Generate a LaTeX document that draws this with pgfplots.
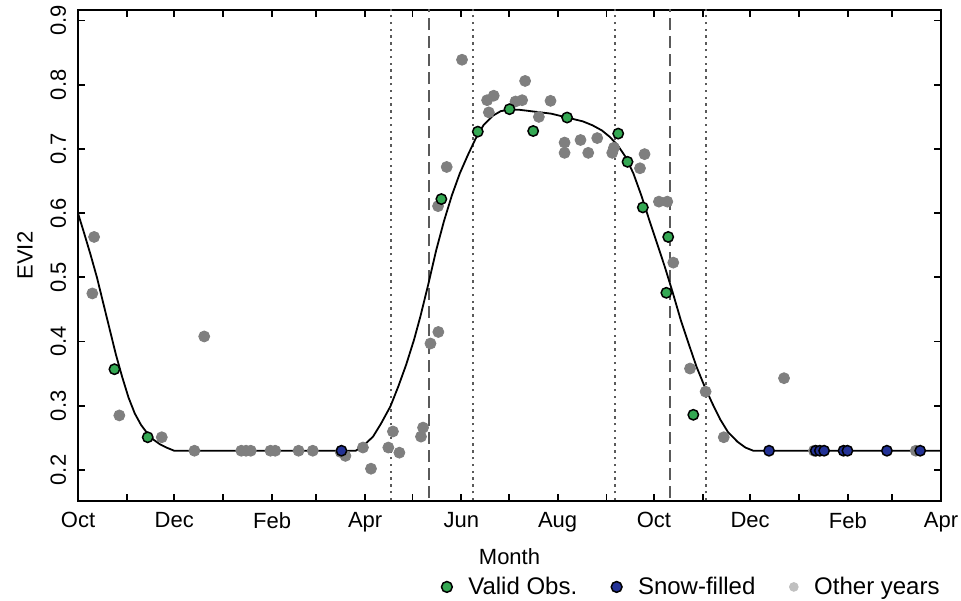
\documentclass[border=0pt]{standalone}
\usepackage{fontspec}
\setmainfont{Liberation Sans}
\usepackage{pgfplots}
\pgfplotsset{compat=1.18}
\definecolor{obsgreen}{RGB}{52,168,83}
\definecolor{snowblue}{RGB}{35,50,150}
\definecolor{ptgray}{RGB}{127,127,127}
\definecolor{leggray}{RGB}{192,192,192}
\definecolor{vgray}{RGB}{90,90,90}
\begin{document}
\begin{tikzpicture}
\useasboundingbox (-39pt,-49.5pt) rectangle (441.5pt,250.5pt);
\begin{axis}[
  scale only axis, width=431.5pt, height=245.5pt,
  xmin=0, xmax=547, ymin=0.1517, ymax=0.9165,
  axis line style={line width=0.9pt},
  tick style={line width=0.9pt, black},
  tick align=inside, major tick length=3.5pt,
  xtick={0,31,61,92,123,151,182,212,243,273,304,335,365,396,426,457,488,516,547},
  xticklabels={Oct,,Dec,,Feb,,Apr,,Jun,,Aug,,Oct,,Dec,,Feb,,Apr},
  ytick={0.2,0.3,0.4,0.5,0.6,0.7,0.8,0.9},
  yticklabels={0.2,0.3,0.4,0.5,0.6,0.7,0.8,0.9},
  ticklabel style={font=\fontsize{11}{13}\selectfont},
  xticklabel style={anchor=north, inner sep=0pt},
  xticklabel shift=5.5pt,
  yticklabel style={rotate=90, anchor=south, inner sep=0pt},
  yticklabel shift=5.7pt,
  xlabel={Month}, ylabel={EVI2},
  label style={font=\fontsize{11}{13}\selectfont},
  xlabel style={at={(axis description cs:0.5,-0.0957)}, anchor=north, inner sep=0pt},
  ylabel style={at={(axis description cs:-0.0521,0.5)}, anchor=south, inner sep=0pt},
  legend columns=3,
  legend style={draw=none, fill=none, at={(axis description cs:1,-0.175)}, anchor=east, xshift=1.5pt,
    font=\fontsize{12}{14}\selectfont, inner xsep=0pt,
    /tikz/every odd column/.append style={column sep=6pt},
    /tikz/every even column/.append style={column sep=15pt}},
]
\addlegendimage{only marks, mark=*, mark size=2.7pt, mark options={fill=obsgreen, draw=black, line width=0.75pt}}
\addlegendentry{Valid Obs.}
\addlegendimage{only marks, mark=*, mark size=2.7pt, mark options={fill=snowblue, draw=black, line width=0.75pt}}
\addlegendentry{Snow-filled}
\addlegendimage{only marks, mark=*, mark size=2.2pt, color=leggray, mark options={fill=leggray, draw=none}}
\addlegendentry{Other years}

% other years
\addplot[only marks, mark=*, mark size=2.75pt, color=ptgray, mark options={fill=ptgray, draw=none}, forget plot] coordinates {
(10.2,0.563) (9.1,0.475) (26.2,0.285) (53.1,0.251) (73.8,0.230) (80.0,0.408)
(103.5,0.230) (106.5,0.230) (109.5,0.230) (122.0,0.230) (125.0,0.230) (139.8,0.230) (148.8,0.230)
(166.5,0.228) (169.5,0.222) (180.6,0.235) (185.7,0.202) (196.7,0.235) (199.6,0.260) (203.7,0.227)
(217.4,0.252) (218.7,0.266) (223.4,0.397) (228.4,0.415) (228.2,0.611) (233.7,0.672) (243.4,0.839)
(259.3,0.776) (263.5,0.783) (260.4,0.757) (277.3,0.774) (281.5,0.776) (283.4,0.806) (292.1,0.750)
(299.5,0.775) (308.4,0.710) (308.4,0.694) (318.5,0.714) (323.4,0.694) (329.1,0.717) (338.6,0.694)
(339.7,0.702) (356.2,0.670) (359.1,0.692) (368.2,0.618) (373.5,0.618) (377.3,0.523) (387.9,0.358)
(397.8,0.322) (409.3,0.251) (447.5,0.343) (466.5,0.230) (531.0,0.230) (549.0,0.203)
};
% valid obs
\addplot[only marks, mark=*, mark size=2.6pt, mark options={fill=obsgreen, draw=black, line width=0.75pt}, forget plot] coordinates {
(23.1,0.357) (44.2,0.251) (230.3,0.622) (253.4,0.727) (273.5,0.762) (288.5,0.728) (310.0,0.749)
(342.4,0.724) (348.3,0.680) (358.0,0.609) (374.1,0.563) (372.9,0.476) (390.0,0.286)
};
% snow-filled
\addplot[only marks, mark=*, mark size=2.6pt, mark options={fill=snowblue, draw=black, line width=0.75pt}, forget plot] coordinates {
(167.0,0.230) (438.0,0.230) (467.6,0.230) (470.2,0.230) (472.9,0.230) (485.2,0.230) (487.7,0.230)
(512.7,0.230) (533.8,0.230)
};
% vertical lines
\addplot[vgray, line width=1pt, dash pattern=on 1.2pt off 2.2pt, forget plot] coordinates {(198.6,0.1) (198.6,1)};
\addplot[vgray, line width=1pt, dash pattern=on 6pt off 3pt, forget plot] coordinates {(222.7,0.1) (222.7,1)};
\addplot[vgray, line width=1pt, dash pattern=on 1.2pt off 2.2pt, forget plot] coordinates {(250.3,0.1) (250.3,1)};
\addplot[vgray, line width=1pt, dash pattern=on 1.2pt off 2.2pt, forget plot] coordinates {(340.2,0.1) (340.2,1)};
\addplot[vgray, line width=1pt, dash pattern=on 6pt off 3pt, forget plot] coordinates {(375.1,0.1) (375.1,1)};
\addplot[vgray, line width=1pt, dash pattern=on 1.2pt off 2.2pt, forget plot] coordinates {(397.9,0.1) (397.9,1)};
% fitted curve
\addplot[black, line width=0.9pt, line join=round, forget plot] coordinates {
(0,0.600) (4,0.568) (8,0.535) (12,0.500) (16,0.460) (20,0.420) (24,0.380) (28,0.345) (32,0.313)
(36,0.288) (40,0.270) (44,0.257) (48,0.247) (52,0.240) (56,0.235) (61,0.230) (176,0.230)
(181,0.238) (187,0.252) (192,0.272) (198,0.299) (203,0.330) (208,0.364) (213,0.403) (217,0.439)
(222,0.489) (227,0.542) (232,0.588) (237,0.628) (242,0.662) (247,0.690) (252,0.716) (257,0.737)
(263,0.752) (268,0.759) (273,0.761) (280,0.761) (290,0.758) (300,0.755) (310,0.749) (320,0.743)
(326,0.737) (332,0.729) (337,0.719) (342,0.706) (347,0.688) (352,0.662) (357,0.628) (362,0.590)
(367,0.553) (372,0.516) (377,0.476) (382,0.434) (387,0.397) (392,0.361) (397,0.331) (402,0.304)
(407,0.279) (412,0.259) (418,0.244) (423,0.235) (428,0.230) (547,0.230)
};
\end{axis}
\end{tikzpicture}
\end{document}
